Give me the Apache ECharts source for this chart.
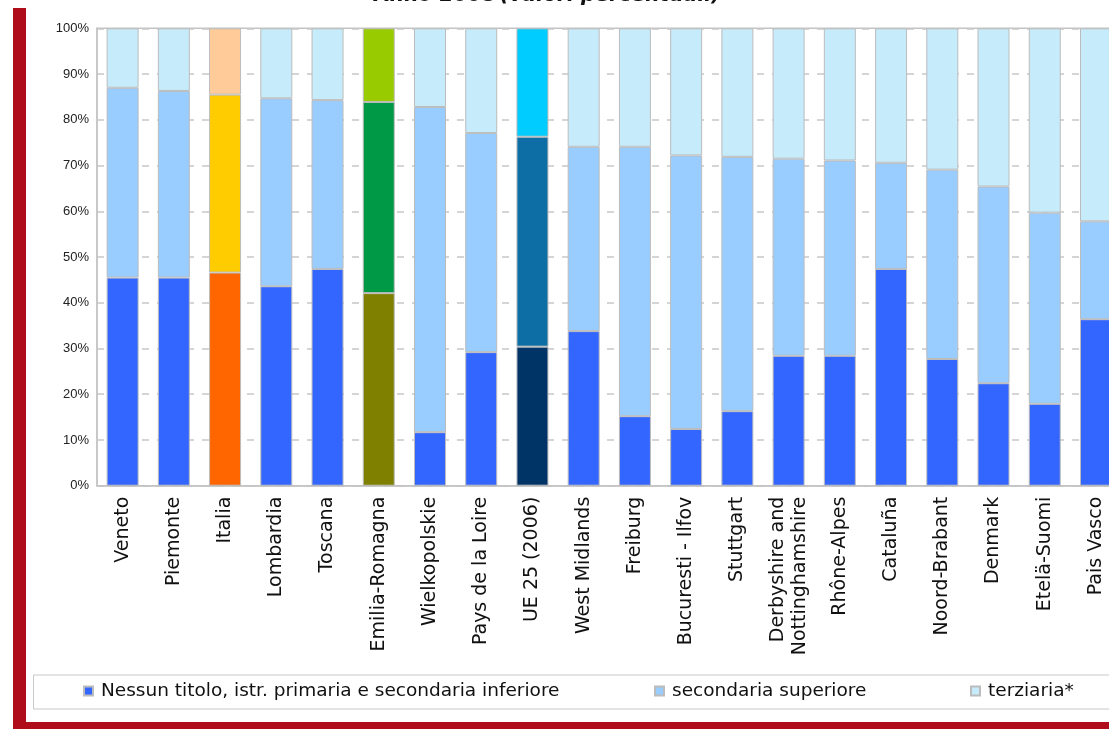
<!DOCTYPE html>
<html>
<head>
<meta charset="utf-8">
<script src="https://cdn.jsdelivr.net/npm/echarts@6/dist/echarts.min.js"></script>
<style>
  html, body { margin: 0; padding: 0; background: #ffffff; }
  #chart { width: 1109px; height: 729px; }
</style>
</head>
<body>
<div id="chart"></div>
<script>
// Regions compared for educational attainment, year 2008 (percent of population)
const categories = [
  'Veneto', 'Piemonte', 'Italia', 'Lombardia', 'Toscana', 'Emilia-Romagna',
  'Wielkopolskie', 'Pays de la Loire', 'UE 25 (2006)', 'West Midlands',
  'Freiburg', 'Bucuresti - Ilfov', 'Stuttgart', 'Derbyshire and\nNottinghamshire',
  'Rhône-Alpes', 'Cataluña', 'Noord-Brabant', 'Denmark', 'Etelä-Suomi', 'Pais Vasco'
];

const seriesNames = [
  'Nessun titolo, istr. primaria e secondaria inferiore',
  'secondaria superiore',
  'terziaria*'
];

// Nessun titolo, istruzione primaria e secondaria inferiore
const lowerSecondary = [45.5, 45.5, 46.6, 43.6, 47.4, 42.1, 11.7, 29.2, 30.4, 33.8,
                        15.2, 12.4, 16.3, 28.4, 28.4, 47.4, 27.7, 22.4, 17.9, 36.4];
// Secondaria superiore
const upperSecondary = [41.5, 40.8, 38.9, 41.1, 36.9, 41.8, 71.1, 47.9, 45.9, 40.3,
                        58.9, 59.8, 55.6, 43.1, 42.7, 23.2, 41.4, 43.0, 41.8, 21.4];
// Terziaria
const tertiary = [13.0, 13.7, 14.5, 15.3, 15.7, 16.1, 17.2, 22.9, 23.7, 25.9,
                  25.9, 27.8, 28.1, 28.5, 28.9, 29.4, 30.9, 34.6, 40.3, 42.2];

const yTicks = [0, 10, 20, 30, 40, 50, 60, 70, 80, 90, 100];

// Default palette and the highlighted references (Italy, Emilia-Romagna, EU average)
const basePalette = ['#3366ff', '#99ccff', '#c6ebfa'];
const highlightPalette = {
  'Italia': ['#ff6600', '#ffcc00', '#ffcc99'],
  'Emilia-Romagna': ['#808000', '#009946', '#99cc00'],
  'UE 25 (2006)': ['#003366', '#0d6ea5', '#00ccff']
};

const FONT = 'DejaVu Sans';

function buildData(values, level) {
  return values.map((v, i) => {
    const pal = highlightPalette[categories[i]];
    return pal ? { value: v, itemStyle: { color: pal[level] } } : v;
  });
}

function stackSeries(name, values, level) {
  return {
    name: name,
    type: 'bar',
    stack: 'total',
    barWidth: 32,
    data: buildData(values, level),
    itemStyle: { color: basePalette[level], borderColor: '#bcbcbc', borderWidth: 1 },
    emphasis: { disabled: true }
  };
}

function legendAt(name, left) {
  return {
    data: [name],
    left: left,
    top: 680,
    padding: 0,
    icon: 'rect',
    itemWidth: 9,
    itemHeight: 9,
    selectedMode: false,
    textStyle: { fontFamily: FONT, fontSize: 18.5, color: '#111', lineHeight: 22, padding: [0, 0, 0, 3] }
  };
}

const chart = echarts.init(document.getElementById('chart'), null, { renderer: 'canvas' });

chart.setOption({
  animation: false,
  backgroundColor: '#ffffff',
  title: {
    text: '{b|Anno 2008} {i|(valori percentuali)}',
    left: 373,
    top: -14,
    padding: 0,
    textStyle: {
      rich: {
        b: { fontFamily: FONT, fontSize: 20.3, fontWeight: 'bold', color: '#111' },
        i: { fontFamily: FONT, fontSize: 20.3, fontStyle: 'italic', color: '#111' }
      }
    }
  },
  graphic: [
    // framing band on the left and bottom
    { type: 'rect', shape: { x: 13, y: 8, width: 13, height: 721 }, style: { fill: '#af0d19' } },
    { type: 'rect', shape: { x: 13, y: 722, width: 1096, height: 7 }, style: { fill: '#af0d19' } },
    // legend box
    { type: 'rect', z: -1, shape: { x: 33.5, y: 675, width: 1100, height: 34 },
      style: { fill: '#ffffff', stroke: '#c8c8c8', lineWidth: 1 } }
  ],
  legend: [
    legendAt(seriesNames[0], 83),
    legendAt(seriesNames[1], 654),
    legendAt(seriesNames[2], 970)
  ],
  grid: {
    left: 97,
    top: 28.3,
    width: 1024.6,
    height: 457.4,
    containLabel: false,
    outerBoundsMode: 'none',
    show: true,
    borderColor: '#c4c4c4',
    borderWidth: 1.5,
    backgroundColor: 'transparent'
  },
  xAxis: {
    type: 'category',
    data: categories,
    axisTick: { show: false },
    axisLine: { show: true, lineStyle: { color: '#c4c4c4', width: 1.5 } },
    axisLabel: {
      rotate: 90,
      margin: 11,
      interval: 0,
      fontFamily: FONT,
      fontSize: 19,
      lineHeight: 22,
      color: '#111'
    }
  },
  yAxis: {
    type: 'value',
    min: yTicks[0],
    max: yTicks[yTicks.length - 1],
    interval: yTicks[1] - yTicks[0],
    axisLine: { show: true, lineStyle: { color: '#c4c4c4', width: 1.5 } },
    axisTick: { show: false },
    splitLine: { show: true, lineStyle: { color: '#c8c8c8', width: 1.5, type: [7, 8] } },
    axisLabel: {
      formatter: '{value}%',
      margin: 8,
      fontFamily: 'Liberation Sans',
      fontSize: 13,
      color: '#222'
    }
  },
  series: [
    stackSeries(seriesNames[0], lowerSecondary, 0),
    stackSeries(seriesNames[1], upperSecondary, 1),
    stackSeries(seriesNames[2], tertiary, 2)
  ]
});
</script>
</body>
</html>
